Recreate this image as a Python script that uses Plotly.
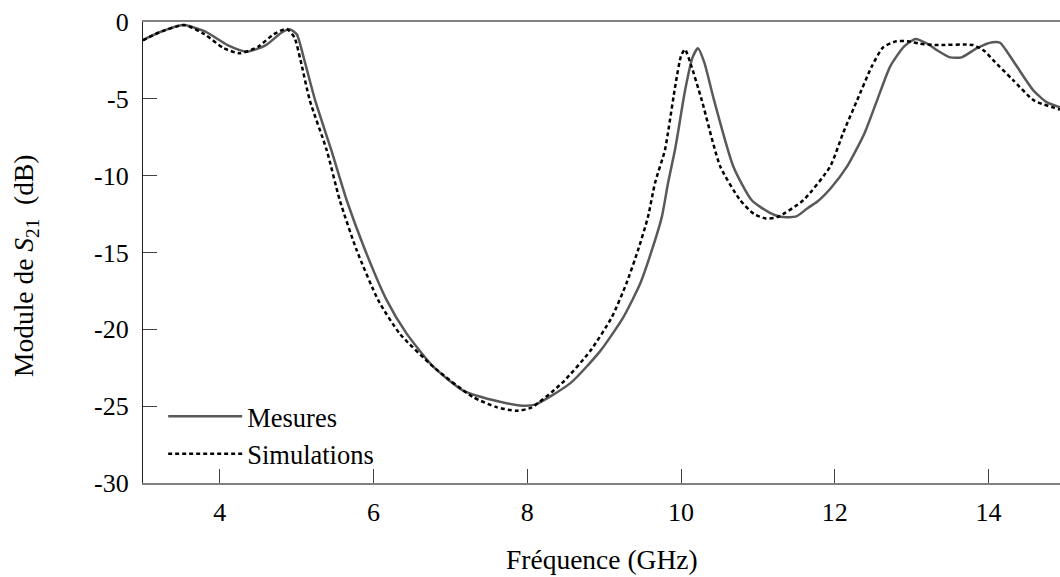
import plotly.graph_objects as go

# Measured (Mesures)
mes_x = [3.0, 3.2, 3.52, 3.8, 4.1, 4.35, 4.6, 4.8, 4.91, 5.0, 5.1, 5.24, 5.45, 5.65, 5.89, 6.17,
         6.43, 6.78, 7.17, 7.55, 7.9, 8.1, 8.56, 8.95, 9.25, 9.47, 9.62, 9.75, 9.83, 9.92, 9.96,
         10.05, 10.15, 10.22, 10.3, 10.43, 10.68, 10.92, 11.15, 11.3, 11.5, 11.65, 11.77, 11.95,
         12.16, 12.39, 12.55, 12.72, 12.9, 13.05, 13.2, 13.35, 13.5, 13.65, 13.85, 14.05, 14.15,
         14.25, 14.37, 14.58, 14.75, 14.93]
mes_y = [-1.17, -0.7, -0.2, -0.6, -1.5, -1.93, -1.5, -0.7, -0.48, -0.8, -2.5, -5.1, -8.34, -11.6,
         -14.85, -18.1, -20.28, -22.45, -24.0, -24.6, -24.95, -24.9, -23.5, -21.4, -19.2, -17.0,
         -14.85, -12.68, -10.5, -8.34, -7.2, -4.5, -2.3, -1.71, -2.6, -5.1, -9.4, -11.6, -12.4,
         -12.68, -12.65, -12.1, -11.7, -10.8, -9.4, -7.2, -5.1, -2.9, -1.6, -1.1, -1.4, -1.9, -2.3,
         -2.3, -1.7, -1.32, -1.35, -2.0, -2.9, -4.43, -5.2, -5.55]

# Simulated (Simulations)
sim_x = [3.0, 3.2, 3.54, 3.8, 4.05, 4.26, 4.5, 4.7, 4.87, 4.97, 5.05, 5.17, 5.39, 5.56, 5.78, 6.06,
         6.34, 6.78, 7.29, 7.6, 7.85, 8.05, 8.45, 8.82, 9.1, 9.29, 9.44, 9.57, 9.66, 9.79, 9.83,
         9.93, 10.0, 10.05, 10.13, 10.27, 10.51, 10.77, 10.95, 11.1, 11.25, 11.59, 11.94, 12.11,
         12.29, 12.48, 12.63, 12.8, 12.95, 13.1, 13.3, 13.8, 13.95, 14.06, 14.32, 14.59, 14.93]
sim_y = [-1.2, -0.7, -0.2, -0.8, -1.7, -2.04, -1.6, -0.8, -0.45, -1.0, -2.5, -5.1, -8.34, -11.6,
         -14.85, -18.1, -20.28, -22.45, -24.4, -25.06, -25.3, -25.1, -23.5, -21.4, -19.2, -17.0,
         -14.85, -12.68, -10.5, -8.34, -7.2, -4.0, -2.2, -1.78, -2.8, -5.1, -9.4, -11.6, -12.5,
         -12.78, -12.7, -11.6, -9.4, -7.2, -5.1, -2.9, -1.64, -1.25, -1.25, -1.4, -1.5, -1.5,
         -1.9, -2.48, -3.78, -5.1, -5.7]

x_ticks = [4, 6, 8, 10, 12, 14]
y_ticks = [0, -5, -10, -15, -20, -25, -30]

FONT = "Liberation Serif, Times New Roman, serif"

fig = go.Figure()
fig.add_trace(go.Scatter(x=mes_x, y=mes_y, mode="lines", name="Mesures",
                         line=dict(color="#595959", width=2.5, shape="spline", smoothing=0.6)))
fig.add_trace(go.Scatter(x=sim_x, y=sim_y, mode="lines", name="Simulations",
                         line=dict(color="#000000", width=2.5, dash="4px,3px", shape="spline", smoothing=0.6)))

fig.update_layout(
    width=1060, height=577,
    margin=dict(l=143, r=0, t=22, b=94),
    paper_bgcolor="white", plot_bgcolor="white",
    font=dict(family=FONT, size=26, color="black"),
    showlegend=True,
    legend=dict(x=0.022, y=0.012, xanchor="left", yanchor="bottom",
                bgcolor="rgba(0,0,0,0)", font=dict(family=FONT, size=26.5),
                itemwidth=74, tracegroupgap=0),
    xaxis=dict(range=[3, 14.93], tickvals=x_ticks, ticktext=[str(v) for v in x_ticks],
               showgrid=False, zeroline=False, showline=True, linecolor="#808080", linewidth=1.5,
               mirror=True, ticks="inside", ticklen=14, tickcolor="#404040", tickwidth=1,
               ticklabelstandoff=5, tickfont=dict(family=FONT, size=26)),
    yaxis=dict(range=[-30, 0], tickvals=y_ticks, ticktext=[str(v) for v in y_ticks],
               showgrid=False, zeroline=False, showline=True, linecolor="#202020", linewidth=1.2,
               ticks="inside", ticklen=14, tickcolor="#404040", tickwidth=1,
               ticklabelstandoff=8, tickfont=dict(family=FONT, size=26)),
    annotations=[
        dict(text="Fréquence (GHz)", xref="paper", yref="paper", x=0.501, y=-0.167,
             xanchor="center", yanchor="middle", showarrow=False,
             font=dict(family=FONT, size=27.5, color="black")),
        dict(text="Module de <i>S</i><sub>21</sub>  (dB)", xref="paper", yref="paper",
             x=-0.1287, y=0.4707, xanchor="center", yanchor="middle", textangle=-90,
             showarrow=False, font=dict(family=FONT, size=27.5, color="black")),
    ],
)

fig.write_html("out.html", config={"displayModeBar": False},
               post_script="document.body.style.margin='0';")
